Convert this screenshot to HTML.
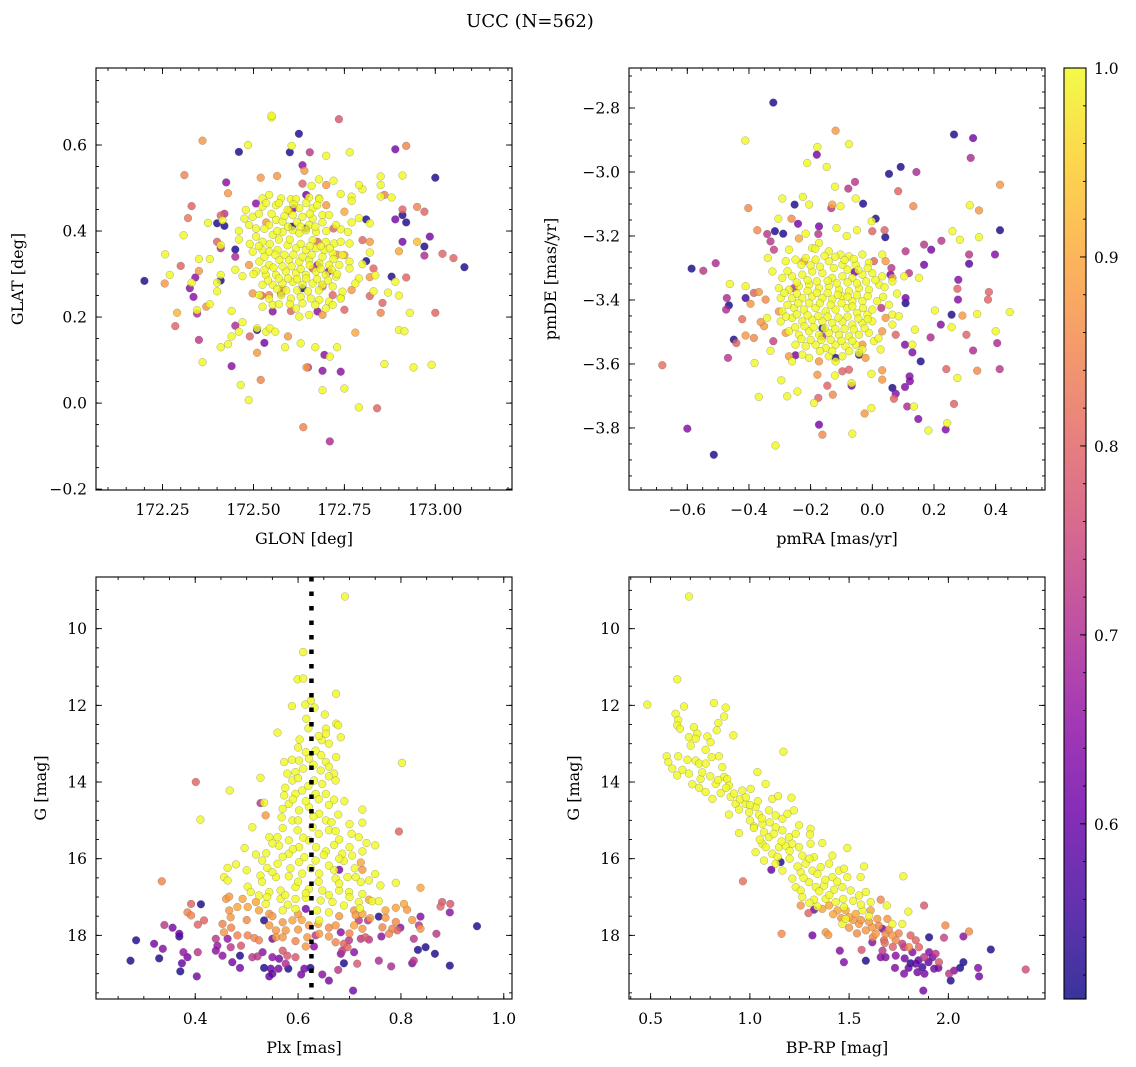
<!DOCTYPE html>
<html><head><meta charset="utf-8"><title>UCC (N=562)</title>
<style>
html,body{margin:0;padding:0;background:#fff;}
svg{display:block;font-family:"DejaVu Serif","Liberation Serif",serif;}
</style></head>
<body>
<svg id="fig" width="1136" height="1067" viewBox="0 0 1136 1067" xmlns="http://www.w3.org/2000/svg">
<defs>
<linearGradient id="plasma" x1="0" y1="1" x2="0" y2="0">
<stop offset="0" stop-color="#0d0887"/><stop offset="0.1" stop-color="#41049d"/><stop offset="0.2" stop-color="#6a00a8"/><stop offset="0.3" stop-color="#8f0da4"/><stop offset="0.4" stop-color="#b12a90"/><stop offset="0.5" stop-color="#cc4778"/><stop offset="0.6" stop-color="#e16462"/><stop offset="0.7" stop-color="#f2844b"/><stop offset="0.8" stop-color="#fca636"/><stop offset="0.9" stop-color="#fcce25"/><stop offset="1" stop-color="#f0f921"/>
</linearGradient>
</defs>
<text x="530" y="27" font-size="18" text-anchor="middle">UCC (N=562)</text>
<g id="panels"></g>
<g id="cbar"></g>
</svg>
<script>
// ---- data: [x, y, membership probability] ----
const glonGlat = [
[172.20,0.284,.52],[172.257,0.346,1],[172.30,0.319,.8],[172.256,0.278,.88],[172.27,0.298,1],[172.285,0.179,.8],[172.29,0.21,.92],[172.31,0.53,.85],[172.36,0.61,.88],[172.33,0.458,.8],[172.32,0.43,.83],[172.308,0.39,1],[172.335,0.247,.65],[172.325,0.267,.65],[172.34,0.292,.65],[172.33,0.28,1],[172.35,0.307,.88],[172.35,0.335,1],[172.38,0.335,1],[172.345,0.216,1],[172.345,0.208,.7],[172.37,0.224,.88],[172.38,0.23,1],[172.35,0.147,.72],[172.36,0.095,1],[172.375,0.419,1],[172.40,0.418,.52],[172.42,0.412,.52],[172.425,0.513,.65],[172.43,0.488,.88],[172.46,0.584,.52],[172.485,0.6,1],[172.41,0.436,.8],[172.42,0.44,.72],[172.415,0.425,1],[172.40,0.375,.8],[172.41,0.367,1],[172.41,0.36,.7],[172.45,0.357,.52],[172.46,0.40,1],[172.46,0.38,1],[172.45,0.34,.7],[172.45,0.31,1],[172.47,0.295,1],[172.41,0.298,1],[172.41,0.285,.52],[172.40,0.28,1],[172.40,0.26,1],[172.44,0.214,1],[172.45,0.18,.7],[172.47,0.188,1],[172.46,0.166,1],[172.44,0.155,1],[172.43,0.137,1],[172.41,0.13,1],[172.44,0.086,.65],[172.465,0.042,1],[172.487,0.007,1],[172.49,0.155,.8],[172.52,0.054,.85],[172.51,0.117,.88],[172.51,0.17,.52],[172.51,0.174,1],[172.53,0.14,.62],[172.535,0.166,1],[172.545,0.174,1],[172.56,0.166,1],[172.587,0.13,1],[172.595,0.155,.88],[172.63,0.139,1],[172.67,0.13,1],[172.695,0.112,.65],[172.71,0.108,1],[172.73,0.13,1],[172.646,0.083,.88],[172.65,0.083,.72],[172.69,0.075,.65],[172.74,0.073,.65],[172.69,0.03,1],[172.75,0.034,1],[172.637,-0.056,.85],[172.71,-0.089,.7],[172.79,-0.01,1],[172.84,-0.012,.8],[172.78,0.164,.9],[172.86,0.091,1],[172.94,0.083,1],[172.99,0.089,1],[172.90,0.17,1],[172.915,0.167,1],[173.00,0.21,.8],[172.93,0.21,1],[172.85,0.21,.85],[172.855,0.233,.8],[172.82,0.249,.8],[172.83,0.26,1],[172.87,0.257,1],[172.90,0.25,1],[172.89,0.282,1],[172.88,0.294,.52],[172.92,0.292,.8],[172.835,0.297,1],[172.82,0.293,.88],[172.83,0.313,.8],[172.81,0.33,.52],[172.80,0.323,1],[173.08,0.316,.52],[173.05,0.337,.8],[173.02,0.347,.8],[172.97,0.343,.7],[172.97,0.364,.52],[172.985,0.387,.62],[172.95,0.375,.93],[172.91,0.375,.62],[172.90,0.353,.9],[172.89,0.427,.62],[172.91,0.437,.52],[172.92,0.42,.52],[172.91,0.45,.8],[172.95,0.456,.85],[172.97,0.445,.8],[173.00,0.524,.52],[172.91,0.529,1],[172.92,0.598,.85],[172.89,0.59,.62],[172.85,0.527,1],[172.85,0.507,1],[172.85,0.48,1],[172.86,0.484,.85],[172.88,0.478,1],[172.80,0.497,1],[172.79,0.507,1],[172.77,0.48,1],[172.77,0.47,1],[172.74,0.486,1],[172.75,0.445,.9],[172.77,0.42,1],[172.79,0.43,1],[172.81,0.427,.52],[172.82,0.418,1],[172.765,0.583,1],[172.735,0.66,.78],[172.70,0.575,1],[172.655,0.583,.72],[172.625,0.626,.52],[172.635,0.553,.65],[172.64,0.54,.88],[172.605,0.598,1],[172.60,0.583,.52],[172.55,0.664,1],[172.55,0.668,1],[172.52,0.524,.88],[172.565,0.528,.88],[172.635,0.51,.8],[172.66,0.505,1],[172.68,0.52,1],[172.70,0.507,.88],[172.72,0.517,1],[172.645,0.484,.62],[172.68,0.476,1],[172.72,0.406,.8],[172.74,0.404,1],[172.76,0.398,1],[172.80,0.379,.8],[172.82,0.375,.88],[172.82,0.35,1],[172.79,0.29,1],[172.78,0.278,1],[172.77,0.263,.88],[172.74,0.245,1],[172.75,0.217,.8],
[172.525,0.476,1],[172.543,0.484,1],[172.576,0.476,1],[172.603,0.474,1],[172.617,0.474,1],[172.653,0.478,1],[172.681,0.474,1],[172.525,0.457,1],[172.562,0.46,1],[172.594,0.449,1],[172.626,0.453,1],[172.663,0.453,1],[172.69,0.437,1],[172.479,0.449,1],[172.498,0.433,1],[172.475,0.429,1],[172.488,0.414,1],[172.507,0.406,1],[172.543,0.414,1],[172.562,0.426,1],[172.58,0.422,1],[172.608,0.437,1],[172.635,0.433,1],[172.663,0.429,1],[172.653,0.414,1],[172.672,0.398,1],[172.708,0.437,1],[172.727,0.414,1],[172.507,0.387,1],[172.525,0.375,1],[172.553,0.391,1],[172.58,0.398,1],[172.608,0.402,1],[172.626,0.395,1],[172.644,0.402,1],[172.663,0.379,1],[172.699,0.375,1],[172.722,0.371,1],[172.74,0.375,1],[172.764,0.371,1],[172.498,0.352,1],[172.525,0.356,1],[172.543,0.352,1],[172.566,0.356,1],[172.594,0.367,1],[172.617,0.36,1],[172.644,0.356,1],[172.672,0.36,1],[172.695,0.356,1],[172.718,0.348,1],[172.745,0.344,1],[172.764,0.329,1],[172.516,0.329,1],[172.543,0.321,1],[172.571,0.333,1],[172.598,0.333,1],[172.626,0.329,1],[172.653,0.333,1],[172.681,0.325,1],[172.708,0.321,1],[172.736,0.321,1],[172.764,0.313,1],[172.507,0.306,1],[172.534,0.298,1],[172.562,0.298,1],[172.589,0.306,1],[172.617,0.302,1],[172.644,0.298,1],[172.672,0.306,1],[172.699,0.298,1],[172.727,0.294,1],[172.525,0.275,1],[172.553,0.275,1],[172.58,0.278,1],[172.608,0.282,1],[172.635,0.275,1],[172.663,0.278,1],[172.69,0.275,1],[172.718,0.271,1],[172.745,0.259,1],[172.516,0.251,1],[172.543,0.243,1],[172.576,0.251,1],[172.603,0.243,1],[172.63,0.247,1],[172.658,0.243,1],[172.681,0.24,1],[172.708,0.236,1],[172.74,0.243,1],[172.525,0.224,1],[172.553,0.228,1],[172.617,0.22,1],[172.653,0.205,1],[172.626,0.201,1],[172.699,0.22,1],[172.718,0.228,1],
[172.488,0.321,.88],[172.498,0.255,.88],[172.543,0.251,.85],[172.598,0.447,.88],[172.75,0.344,.88],[172.69,0.205,.88],[172.522,0.25,.8],[172.603,0.214,.8],[172.676,0.375,.8],[172.69,0.271,.8],[172.718,0.251,.8],[172.663,0.313,.8],[172.507,0.464,.65],[172.61,0.453,.62],[172.676,0.321,.62],[172.707,0.306,.65],[172.576,0.255,.62],[172.676,0.213,.65],[172.553,0.213,.65],[172.606,0.41,.52],[172.644,0.406,.52],[172.635,0.267,.52]
];
const glonGlatCore = [
[172.535,0.465,1],[172.57,0.465,1],[172.61,0.462,1],[172.645,0.465,1],[172.675,0.46,1],[172.515,0.44,1],[172.55,0.44,1],[172.585,0.435,1],[172.62,0.42,1],[172.655,0.44,1],[172.69,0.42,1],[172.53,0.405,1],[172.565,0.4,1],[172.595,0.41,1],[172.63,0.41,1],[172.67,0.41,1],[172.7,0.4,1],[172.515,0.365,1],[172.545,0.37,1],[172.57,0.38,1],[172.6,0.38,1],[172.63,0.37,1],[172.655,0.365,1],[172.685,0.365,1],[172.71,0.36,1],[172.53,0.34,1],[172.56,0.345,1],[172.585,0.345,1],[172.61,0.345,1],[172.635,0.34,1],[172.66,0.345,1],[172.69,0.34,1],[172.72,0.335,1],[172.53,0.31,1],[172.555,0.315,1],[172.58,0.318,1],[172.605,0.318,1],[172.63,0.312,1],[172.655,0.32,1],[172.685,0.312,1],[172.715,0.31,1],[172.54,0.285,1],[172.57,0.29,1],[172.595,0.29,1],[172.62,0.288,1],[172.645,0.29,1],[172.675,0.288,1],[172.705,0.285,1],[172.565,0.265,1],[172.59,0.262,1],[172.62,0.262,1],[172.65,0.26,1],[172.68,0.262,1],[172.6,0.23,1],[172.635,0.232,1],[172.67,0.228,1],[172.57,0.23,1],[172.73,0.3,1],[172.5,0.3,1],[172.49,0.37,1],
[172.73,0.345,.88],[172.7,0.46,.88],[172.58,0.265,.86],[172.535,0.42,.88]
];
const pmraPmde = [
[-0.321,-2.783,.52],[-0.412,-2.902,1],[-0.119,-2.871,.88],[-0.178,-2.922,1],[-0.18,-2.946,.62],[-0.076,-2.913,1],[-0.211,-2.972,1],[-0.148,-2.984,1],[0.265,-2.883,.52],[0.327,-2.894,.62],[0.319,-2.956,.7],[0.092,-2.984,.52],[0.054,-3.006,.52],[0.143,-3.0,.7],[0.414,-3.04,.88],[-0.121,-3.046,1],[-0.056,-3.031,.72],[-0.078,-3.052,.72],[0.084,-3.06,.8],[0.133,-3.107,.86],[0.316,-3.104,1],[0.346,-3.12,.88],[-0.292,-3.083,1],[-0.225,-3.078,1],[-0.205,-3.102,1],[-0.252,-3.102,.52],[-0.13,-3.102,.9],[-0.103,-3.107,1],[-0.133,-3.113,.72],[-0.054,-3.083,1],[-0.03,-3.099,.52],[-0.402,-3.113,.86],[0.011,-3.146,.52],[-0.002,-3.154,1],[-0.305,-3.146,1],[-0.262,-3.146,.86],[-0.241,-3.162,.62],[-0.173,-3.17,.62],[-0.116,-3.175,1],[-0.373,-3.182,.86],[-0.316,-3.185,.52],[-0.289,-3.193,.52],[-0.341,-3.194,.72],[-0.33,-3.217,.72],[-0.319,-3.243,.74],[-0.216,-3.193,1],[-0.175,-3.194,.72],[-0.238,-3.208,.9],[0,-3.185,.8],[0.04,-3.182,.8],[0.042,-3.204,.52],[-0.05,-3.182,1],[-0.083,-3.2,1],[0.26,-3.185,1],[0.284,-3.212,1],[0.346,-3.204,1],[0.414,-3.182,.52],[0.224,-3.215,.72],[0.168,-3.227,.72],[0.191,-3.243,.62],[0.314,-3.258,.72],[0.314,-3.287,.58],[0.398,-3.258,.64],[0.168,-3.29,.62],[0.279,-3.337,.64],[0.276,-3.365,.8],[0.278,-3.399,.64],[0.378,-3.375,.8],[0.375,-3.399,.8],[0.446,-3.438,1],[0.34,-3.444,1],[0.292,-3.449,.88],[0.257,-3.446,.52],[0.203,-3.433,1],[0.257,-3.485,1],[0.222,-3.477,.64],[0.305,-3.509,.8],[0.405,-3.535,.7],[0.4,-3.498,1],[0.327,-3.558,.7],[0.189,-3.517,.7],[0.138,-3.493,1],[0.13,-3.54,1],[0.13,-3.564,.64],[0.157,-3.592,.52],[0.106,-3.54,.64],[0.24,-3.616,.8],[0.276,-3.644,1],[0.34,-3.621,.86],[0.413,-3.616,.72],[0.243,-3.785,1],[0.238,-3.805,.64],[0.182,-3.808,1],[0.149,-3.772,.64],[0.135,-3.733,1],[0.113,-3.733,.7],[0.265,-3.725,.8],[0.121,-3.639,.64],[0.122,-3.654,.64],[0.106,-3.672,.64],[0.065,-3.675,.52],[0.076,-3.693,.64],[0.07,-3.709,.8],[0.032,-3.649,.88],[0.032,-3.62,.88],[-0.003,-3.631,1],[-0.025,-3.755,.88],[-0.003,-3.738,1],[-0.065,-3.818,1],[-0.067,-3.668,.62],[-0.067,-3.66,1],[-0.076,-3.618,.8],[-0.097,-3.623,.8],[-0.121,-3.636,1],[-0.128,-3.696,.86],[-0.146,-3.668,.8],[-0.175,-3.706,.8],[-0.189,-3.722,1],[-0.173,-3.79,.62],[-0.162,-3.821,.86],[-0.178,-3.634,.88],[-0.243,-3.686,1],[-0.276,-3.701,1],[-0.295,-3.651,1],[-0.368,-3.703,1],[-0.314,-3.855,1],[-0.514,-3.884,.52],[-0.6,-3.802,.64],[-0.681,-3.604,.82],[-0.586,-3.302,.52],[-0.548,-3.309,.72],[-0.508,-3.285,.7],[-0.462,-3.35,1],[-0.411,-3.357,1],[-0.472,-3.394,.7],[-0.465,-3.417,.52],[-0.474,-3.43,.7],[-0.411,-3.394,.55],[-0.395,-3.412,.88],[-0.384,-3.378,.8],[-0.368,-3.375,.88],[-0.346,-3.399,.86],[-0.422,-3.46,.82],[-0.411,-3.511,.88],[-0.384,-3.519,.86],[-0.449,-3.524,.52],[-0.441,-3.535,.8],[-0.468,-3.581,.72],[-0.382,-3.597,1],[-0.33,-3.559,1],[-0.321,-3.529,.74],[-0.351,-3.482,.88],[-0.362,-3.469,.88],[-0.339,-3.269,1],[-0.341,-3.456,1],
[-0.173,-3.222,1],[-0.195,-3.238,1],[-0.141,-3.248,1],[-0.103,-3.258,1],[-0.076,-3.264,1],[-0.032,-3.258,1],[-0.27,-3.243,1],[-0.281,-3.279,1],[-0.249,-3.274,1],[-0.216,-3.269,1],[-0.184,-3.274,1],[-0.141,-3.279,1],[-0.097,-3.29,1],[-0.054,-3.29,1],[-0.011,-3.284,1],[0.032,-3.258,1],[-0.324,-3.311,1],[-0.292,-3.331,1],[-0.26,-3.326,1],[-0.227,-3.321,1],[-0.195,-3.311,1],[-0.162,-3.316,1],[-0.13,-3.331,1],[-0.097,-3.326,1],[-0.065,-3.331,1],[-0.032,-3.321,1],[0,-3.316,1],[0.032,-3.326,1],[0.065,-3.342,1],[0.103,-3.326,1],[0.151,-3.331,1],[-0.303,-3.363,1],[-0.27,-3.368,1],[-0.238,-3.357,1],[-0.205,-3.352,1],[-0.173,-3.363,1],[-0.141,-3.357,1],[-0.108,-3.368,1],[-0.076,-3.373,1],[-0.043,-3.363,1],[-0.011,-3.368,1],[0.022,-3.352,1],[-0.297,-3.394,1],[-0.26,-3.394,1],[-0.227,-3.394,1],[-0.195,-3.389,1],[-0.162,-3.394,1],[-0.13,-3.399,1],[-0.097,-3.389,1],[-0.065,-3.404,1],[-0.032,-3.404,1],[0.016,-3.404,1],[0.054,-3.415,1],[-0.292,-3.436,1],[-0.254,-3.425,1],[-0.222,-3.43,1],[-0.184,-3.425,1],[-0.151,-3.436,1],[-0.119,-3.43,1],[-0.081,-3.425,1],[-0.049,-3.441,1],[-0.016,-3.446,1],[0.065,-3.446,1],[0.086,-3.451,1],[-0.297,-3.467,1],[-0.26,-3.456,1],[-0.227,-3.467,1],[-0.195,-3.462,1],[-0.162,-3.467,1],[-0.13,-3.472,1],[-0.097,-3.467,1],[-0.065,-3.477,1],[-0.032,-3.472,1],[0,-3.467,1],[0.065,-3.477,1],[-0.27,-3.498,1],[-0.238,-3.509,1],[-0.205,-3.498,1],[-0.173,-3.509,1],[-0.141,-3.503,1],[-0.108,-3.509,1],[-0.076,-3.514,1],[-0.043,-3.509,1],[-0.011,-3.503,1],[0.005,-3.529,1],[-0.249,-3.54,1],[-0.216,-3.545,1],[-0.184,-3.54,1],[-0.151,-3.55,1],[-0.119,-3.54,1],[-0.087,-3.545,1],[-0.054,-3.54,1],[-0.032,-3.555,1],[0.027,-3.555,1],[-0.205,-3.581,1],[-0.141,-3.576,1],[-0.097,-3.576,1],[-0.26,-3.592,1],[-0.227,-3.571,1],[-0.043,-3.566,1],[-0.119,-3.592,1],
[-0.222,-3.279,.88],[0.043,-3.279,.88],[0.065,-3.331,.88],[0.043,-3.456,.88],[0.032,-3.498,.88],[-0.281,-3.503,.88],[-0.27,-3.576,.88],[-0.022,-3.581,.88],[-0.173,-3.592,.88],[-0.032,-3.54,.88],[-0.303,-3.436,.88],[0.076,-3.509,.8],[0.005,-3.279,.8],[-0.254,-3.363,.72],[-0.162,-3.514,.72],[0.108,-3.248,.72],[0.062,-3.3,.72],[0.029,-3.425,.72],[0.119,-3.316,.72],[-0.057,-3.313,.62],[0.108,-3.394,.62],[0.059,-3.321,.62],[-0.249,-3.573,.62],[-0.162,-3.488,.52],[-0.119,-3.581,.52],[0.108,-3.41,.52],[-0.043,-3.571,.52]
];
const pmraPmdeCore = [
[-0.185,-3.24,1],[-0.155,-3.262,1],[-0.12,-3.265,1],[-0.09,-3.275,1],[-0.06,-3.272,1],[-0.23,-3.29,1],[-0.2,-3.292,1],[-0.17,-3.296,1],[-0.125,-3.3,1],[-0.08,-3.305,1],[-0.045,-3.306,1],[-0.015,-3.3,1],[-0.275,-3.31,1],[-0.245,-3.345,1],[-0.21,-3.338,1],[-0.18,-3.342,1],[-0.145,-3.34,1],[-0.115,-3.348,1],[-0.08,-3.345,1],[-0.05,-3.348,1],[-0.02,-3.342,1],[0.01,-3.338,1],[-0.285,-3.378,1],[-0.245,-3.38,1],[-0.21,-3.372,1],[-0.18,-3.378,1],[-0.145,-3.378,1],[-0.112,-3.384,1],[-0.08,-3.39,1],[-0.05,-3.385,1],[-0.015,-3.388,1],[0.035,-3.39,1],[-0.275,-3.415,1],[-0.24,-3.41,1],[-0.205,-3.41,1],[-0.17,-3.41,1],[-0.135,-3.415,1],[-0.1,-3.41,1],[-0.065,-3.42,1],[-0.03,-3.425,1],[0.0,-3.43,1],[-0.28,-3.452,1],[-0.245,-3.445,1],[-0.21,-3.448,1],[-0.175,-3.45,1],[-0.145,-3.452,1],[-0.11,-3.455,1],[-0.08,-3.452,1],[-0.045,-3.458,1],[-0.015,-3.46,1],[-0.25,-3.485,1],[-0.22,-3.482,1],[-0.19,-3.485,1],[-0.155,-3.488,1],[-0.12,-3.49,1],[-0.09,-3.49,1],[-0.06,-3.492,1],[-0.025,-3.488,1],[-0.23,-3.522,1],[-0.2,-3.525,1],[-0.165,-3.525,1],[-0.135,-3.525,1],[-0.1,-3.528,1],[-0.065,-3.528,1],[-0.17,-3.56,1],[-0.13,-3.56,1],[-0.075,-3.56,1],[0.02,-3.52,1],[0.04,-3.36,1],[0.08,-3.38,1]
];
const plxG = [
[0.691,9.16,1],[0.61,10.61,1],[0.599,11.32,1],[0.61,11.3,1],[0.674,11.7,1],[0.588,12.02,1],[0.614,11.98,1],[0.625,11.87,1],[0.632,12.06,1],[0.616,12.35,1],[0.652,12.24,1],[0.674,12.48,1],[0.678,12.52,1],[0.654,12.61,1],[0.56,12.71,1],[0.603,12.89,1],[0.683,12.83,1],[0.654,12.74,1],[0.646,12.91,1],[0.634,13.18,1],[0.615,13.22,1],[0.674,13.35,1],[0.573,13.48,1],[0.588,13.42,1],[0.602,13.44,1],[0.621,13.39,1],[0.654,13.48,1],[0.644,13.7,1],[0.67,13.78,1],[0.673,13.96,1],[0.579,13.78,1],[0.595,13.74,1],[0.589,13.96,1],[0.631,13.96,1],[0.647,14.05,1],[0.802,13.5,1],[0.527,13.89,1],[0.467,14.22,1],[0.401,14.0,.8],[0.573,14.35,1],[0.595,14.31,1],[0.608,14.22,1],[0.634,14.31,1],[0.654,14.31,1],[0.67,14.46,1],[0.527,14.55,.72],[0.534,14.54,1],[0.537,14.87,.88],[0.568,14.92,1],[0.41,14.98,1],[0.511,15.18,1],[0.582,14.57,1],[0.602,14.74,1],[0.621,14.65,1],[0.641,14.83,1],[0.654,15.0,1],[0.678,14.85,1],[0.725,14.72,1],[0.725,15.06,1],[0.589,15.0,1],[0.599,15.26,1],[0.628,15.18,1],[0.66,15.26,1],[0.673,15.28,1],[0.704,15.35,1],[0.718,15.44,1],[0.733,15.59,1],[0.796,15.29,.8],[0.544,15.44,1],[0.56,15.44,1],[0.563,15.66,1],[0.582,15.52,1],[0.602,15.7,1],[0.621,15.52,1],[0.67,15.64,1],[0.654,15.81,1],[0.686,15.87,1],[0.705,15.92,1],[0.725,15.81,1],[0.496,15.72,1],[0.518,15.89,1],[0.538,15.86,1],[0.582,15.87,1],[0.612,15.96,1],[0.56,16.13,1],[0.602,16.09,1],[0.634,16.05,1],[0.66,16.18,1],[0.689,16.06,1],[0.722,16.1,.9],[0.479,16.15,1],[0.463,16.24,1],[0.54,16.24,1],[0.68,16.29,.62],[0.725,16.29,.88],[0.456,16.48,1],[0.463,16.57,1],[0.527,16.44,1],[0.557,16.48,1],[0.582,16.46,1],[0.608,16.39,1],[0.641,16.39,1],[0.673,16.52,1],[0.696,16.48,1],[0.712,16.48,1],[0.722,16.61,1],[0.738,16.57,1],[0.79,16.63,1],[0.838,16.76,.9],[0.335,16.59,.85],[0.502,16.73,1],[0.508,16.87,1],[0.524,16.96,1],[0.544,16.87,1],[0.566,16.83,1],[0.595,16.74,1],[0.621,16.79,1],[0.647,16.83,1],[0.68,16.83,1],[0.699,16.87,1],[0.725,16.92,1],[0.46,17.05,.88],[0.466,16.99,.88],[0.492,17.05,.9],[0.518,17.13,.9],[0.537,17.18,1],[0.566,17.05,1],[0.595,17.05,1],[0.615,17.02,1],[0.644,17.09,1],[0.667,17.13,1],[0.689,17.22,1],[0.718,17.13,1],[0.744,17.11,1],[0.757,17.11,1],[0.738,17.07,.9],[0.392,17.18,.8],[0.411,17.19,.52],[0.385,17.4,.85],[0.392,17.48,.85],[0.417,17.61,.8],[0.405,17.72,.8],[0.34,17.73,.72],[0.356,17.8,.62],[0.369,17.96,.6],[0.369,18.03,.52],[0.285,18.13,.52],[0.32,18.22,.62],[0.337,18.35,.64],[0.377,18.44,.66],[0.385,18.57,.62],[0.374,18.73,.6],[0.405,18.44,.72],[0.33,18.6,.52],[0.274,18.66,.52],[0.371,18.94,.52],[0.403,19.07,.62],[0.466,17.35,.88],[0.469,17.53,.88],[0.482,17.26,.9],[0.502,17.26,.9],[0.524,17.35,.9],[0.544,17.44,.88],[0.57,17.35,1],[0.595,17.31,1],[0.615,17.31,.62],[0.637,17.35,1],[0.66,17.4,1],[0.709,17.35,.88],[0.712,17.48,.88],[0.725,17.44,.9],[0.77,17.35,.9],[0.79,17.28,.9],[0.812,17.33,.88],[0.806,17.18,.9],[0.757,17.51,.52],[0.77,17.54,.88],[0.838,17.51,.64],[0.88,17.13,.78],[0.896,17.18,.78],[0.877,17.25,.8],[0.895,17.4,.65],[0.948,17.76,.52],[0.453,17.7,.85],[0.456,17.92,.88],[0.534,17.61,.52],[0.544,17.74,.88],[0.57,17.66,.88],[0.557,17.87,.88],[0.576,17.87,.88],[0.589,17.61,.9],[0.607,17.6,.9],[0.641,17.61,1],[0.639,17.7,.9],[0.621,17.74,.88],[0.641,17.96,.88],[0.66,18.03,.88],[0.673,17.74,.88],[0.709,17.74,.9],[0.725,17.83,.88],[0.718,17.61,.72],[0.736,17.61,.72],[0.764,17.79,.85],[0.783,17.83,.85],[0.799,17.8,.65],[0.822,17.6,.88],[0.835,17.74,.72],[0.838,17.83,.88],[0.869,17.96,.72],[0.825,18.09,.72],[0.683,17.92,.65],[0.44,18.09,.72],[0.443,18.27,.66],[0.463,18.09,.66],[0.469,18.31,.72],[0.489,18.27,.78],[0.482,18.0,.85],[0.502,18.0,.85],[0.515,18.07,.85],[0.524,18.13,.85],[0.55,18.09,.62],[0.557,18.05,.88],[0.57,18.05,.88],[0.595,18.15,.85],[0.618,18.05,.88],[0.615,18.29,.88],[0.631,18.29,.65],[0.634,18.0,.72],[0.673,18.18,.85],[0.689,18.22,.8],[0.696,18.31,.8],[0.699,18.13,.72],[0.722,18.09,.72],[0.731,18.05,.78],[0.738,18.11,.72],[0.762,18.03,.65],[0.777,17.96,.85],[0.793,17.87,.8],[0.44,18.4,.65],[0.453,18.53,.65],[0.472,18.7,.62],[0.487,18.53,.52],[0.511,18.57,.72],[0.521,18.55,.72],[0.531,18.44,.65],[0.55,18.57,.65],[0.57,18.4,.78],[0.579,18.53,.78],[0.595,18.57,.78],[0.563,18.61,.62],[0.576,18.74,.7],[0.683,18.48,.65],[0.686,18.4,.72],[0.709,18.44,.65],[0.689,18.73,.52],[0.715,18.74,.78],[0.757,18.66,.7],[0.781,18.81,.7],[0.825,18.66,.72],[0.822,18.73,.62],[0.833,18.38,.52],[0.848,18.31,.52],[0.866,18.48,.52],[0.895,18.79,.52],[0.487,18.85,.62],[0.534,18.85,.52],[0.547,18.87,.6],[0.55,19.0,.6],[0.562,18.87,.62],[0.581,18.87,.52],[0.544,19.07,.6],[0.606,19.02,.62],[0.612,18.87,.62],[0.624,18.85,.52],[0.647,19.02,.65],[0.66,19.18,.62],[0.678,18.9,.72],[0.707,19.44,.62]
];
const plxGCore = [
[0.62,12.6,1],[0.64,12.8,1],[0.66,13.0,1],[0.6,13.1,1],[0.645,13.3,1],[0.63,13.55,1],[0.66,13.6,1],[0.61,13.65,1],[0.6,13.9,1],[0.66,13.85,1],[0.62,14.1,1],[0.575,14.15,1],[0.64,14.45,1],[0.615,14.5,1],[0.59,14.45,1],[0.66,14.6,1],[0.69,14.5,1],[0.57,14.7,1],[0.63,14.9,1],[0.6,15.0,1],[0.665,15.05,1],[0.7,15.1,1],[0.57,15.2,1],[0.64,15.35,1],[0.61,15.45,1],[0.68,15.5,1],[0.55,15.6,1],[0.59,15.75,1],[0.635,15.7,1],[0.7,15.7,1],[0.75,15.65,1],[0.57,15.95,1],[0.65,15.9,1],[0.68,16.0,1],[0.53,16.05,1],[0.585,16.25,1],[0.625,16.25,1],[0.67,16.3,1],[0.71,16.25,1],[0.5,16.3,1],[0.55,16.35,1],[0.75,16.4,1],[0.6,16.6,1],[0.64,16.6,1],[0.68,16.65,1],[0.53,16.6,1],[0.76,16.7,1],[0.575,16.95,1],[0.615,16.9,1],[0.66,16.95,1],[0.7,17.0,1],[0.54,17.0,1],[0.72,17.3,1],[0.58,17.2,1],
[0.55,17.5,.88],[0.6,17.45,.88],[0.68,17.5,.88],[0.5,17.6,.86],[0.74,17.55,.88],[0.66,17.8,.86],[0.6,17.85,.88],[0.7,17.95,.85],[0.47,17.8,.85],[0.79,17.65,.86]
];
const bprpG = [
[0.693,9.16,1],[0.483,11.98,1],[0.634,11.32,1],[0.668,12.03,1],[0.626,12.22,1],[0.639,12.38,1],[0.634,12.52,1],[0.648,12.61,1],[0.819,11.94,1],[0.878,12.06,1],[0.87,12.29,1],[0.841,12.46,1],[0.833,12.65,1],[0.917,12.78,1],[0.718,12.57,1],[0.735,12.74,1],[0.693,12.83,1],[0.786,12.81,1],[0.802,12.96,1],[0.727,12.87,1],[0.702,13.05,1],[0.777,13.16,1],[0.581,13.33,1],[0.589,13.48,1],[0.609,13.65,1],[0.639,13.33,1],[0.634,13.83,1],[0.66,13.68,1],[0.685,13.42,1],[0.693,13.78,1],[0.727,13.44,1],[0.744,13.52,1],[0.777,13.52,1],[0.807,13.35,1],[0.844,13.33,1],[0.71,14.06,1],[0.744,14.15,1],[0.777,14.26,1],[0.811,14.44,1],[0.752,13.92,1],[0.828,14.05,1],[0.861,13.61,1],[0.87,13.87,1],[0.886,13.92,1],[0.895,14.09,1],[0.853,14.29,1],[0.903,14.39,1],[0.928,14.57,1],[0.962,14.22,1],[1.004,14.18,1],[1.038,13.74,1],[1.08,14.05,1],[1.113,14.44,1],[1.142,14.37,1],[1.209,14.41,1],[1.169,13.21,1],[0.895,14.85,1],[0.945,14.72,1],[0.979,14.57,1],[0.996,14.79,1],[1.029,14.65,1],[1.046,14.85,1],[1.096,14.74,1],[1.13,14.87,1],[1.164,14.96,1],[1.189,14.83,1],[1.222,14.74,1],[0.945,15.33,1],[1.021,15.16,1],[1.063,15.09,1],[1.071,15.31,1],[1.096,15.44,1],[1.13,15.18,1],[1.164,15.26,1],[1.197,15.44,1],[1.231,15.35,1],[1.248,15.13,1],[1.306,15.22,1],[1.303,15.37,1],[1.029,15.83,1],[1.063,15.61,1],[1.071,16.05,1],[1.113,15.87,1],[1.147,15.7,1],[1.18,15.66,1],[1.214,15.61,1],[1.248,15.7,1],[1.264,15.92,1],[1.306,15.61,1],[1.323,15.96,1],[1.365,15.59,1],[1.416,15.92,1],[1.491,15.72,1],[1.13,16.13,1],[1.164,16.31,1],[1.214,16.52,1],[1.256,16.35,1],[1.281,16.13,1],[1.315,16.31,1],[1.357,16.22,1],[1.399,16.13,1],[1.416,16.48,1],[1.449,16.31,1],[1.474,16.26,1],[1.491,16.48,1],[1.575,16.2,1],[1.558,16.48,1],[1.773,16.46,1],[1.155,16.09,.52],[1.108,16.29,.6],[0.965,16.59,.82],[1.231,16.74,1],[1.256,16.83,1],[1.298,16.61,1],[1.332,16.74,1],[1.374,16.7,1],[1.424,16.81,1],[1.466,16.74,1],[1.508,16.83,1],[1.55,16.96,1],[1.584,16.87,1],[1.609,17.13,1],[1.264,17.0,1],[1.323,17.07,1],[1.382,17.05,1],[1.432,17.13,1],[1.474,17.26,1],[1.69,17.22,1],[1.798,17.38,1],[1.256,17.22,.88],[1.365,17.31,.9],[1.295,17.42,.8],[1.323,17.33,.62],[1.399,17.22,.9],[1.441,17.35,.9],[1.483,17.35,.9],[1.5,17.53,.9],[1.533,17.44,.9],[1.567,17.35,1],[1.609,17.35,.9],[1.659,17.07,.86],[1.693,17.57,.88],[1.642,17.57,.88],[1.668,17.83,.62],[1.718,17.7,1],[1.768,17.7,1],[1.466,17.7,1],[1.483,17.57,1],[1.55,17.7,.88],[1.584,17.87,.88],[1.617,17.79,.88],[1.634,17.96,.88],[1.684,17.96,.86],[1.718,18.0,.88],[1.735,18.13,.86],[1.802,18.31,.86],[1.81,18.0,.8],[1.836,18.13,.8],[1.878,17.22,.78],[1.903,18.05,.52],[1.978,18.06,.74],[1.985,17.74,.86],[2.104,17.9,.86],[2.076,18.03,.65],[2.214,18.37,.52],[2.076,18.7,.52],[2.059,18.85,.52],[2.15,18.85,.64],[2.155,19.07,.62],[2.39,18.89,.76],[2.012,19.18,.52],[2.029,18.92,.65],[2.004,19.0,.72],[1.16,17.96,.86],[1.382,17.92,.88],[1.395,17.99,.88],[1.315,18.0,.62],[1.453,18.4,.64],[1.474,18.7,.64],[1.563,18.38,.78],[1.584,18.66,.52],[1.668,18.4,.72],[1.684,18.57,.64],[1.735,18.53,.65],[1.731,18.85,.64],[1.777,19.0,.64],[1.777,18.31,.72],[1.819,18.44,.64],[1.81,18.73,.52],[1.836,18.74,.6],[1.844,18.96,.62],[1.869,18.83,.55],[1.878,18.57,.72],[1.903,18.44,.64],[1.92,18.57,.62],[1.936,18.48,.72],[1.953,18.7,.78],[1.928,18.87,.62],[1.874,19.44,.62],[1.768,18.22,.74],[1.676,18.13,.8],[1.617,18.18,.64],[1.659,18.57,.64],[1.852,18.31,.8]
];
const bprpGCore = [
[0.76,13.75,1],[0.8,13.85,1],[0.84,13.95,1],[0.88,14.15,1],[0.92,14.3,1],[0.95,14.45,1],[0.98,14.4,1],[1.0,14.6,1],[1.04,14.5,1],[1.06,14.95,1],[1.0,15.0,1],[1.02,15.2,1],[1.1,15.05,1],[1.12,15.35,1],[1.05,15.5,1],[1.08,15.7,1],[1.16,15.55,1],[1.2,15.8,1],[1.14,15.95,1],[1.2,16.0,1],[1.24,16.2,1],[1.3,16.0,1],[1.34,16.4,1],[1.27,16.5,1],[1.38,16.55,1],[1.44,16.6,1],[1.35,16.85,1],[1.4,16.95,1],[1.47,17.05,1],[1.52,17.1,1],[1.56,17.2,1],[1.6,17.5,1],[1.3,17.15,1],[1.34,17.25,1],
[1.42,17.45,.9],[1.46,17.55,.88],[1.52,17.6,.88],[1.56,17.6,.88],[1.6,17.65,.88],[1.65,17.75,.86],[1.7,17.85,.86],[1.75,17.95,.85],[1.5,17.8,.88],[1.54,17.95,.86],[1.62,18.05,.85],[1.68,18.2,.82],[1.72,18.3,.8],
[1.78,18.6,.62],[1.85,18.65,.6],[1.9,18.7,.6],[1.8,18.85,.6],[1.95,18.85,.62],[1.88,19.0,.62]
];
const plxMedian = [0.626];
const cbarTicks = [0.6, 0.7, 0.8, 0.9, 1.0];
const cbarRange = [0.5073, 1.0];

const NS = 'http://www.w3.org/2000/svg';
function mk(tag, attrs, parent) {
  const e = document.createElementNS(NS, tag);
  for (const k in attrs) e.setAttribute(k, attrs[k]);
  if (parent) parent.appendChild(e);
  return e;
}
const stops = [[13,8,135],[65,4,157],[106,0,168],[143,13,164],[177,42,144],[204,71,120],[225,100,98],[242,132,75],[252,166,54],[252,206,37],[240,249,33]];
function plasma(p) {
  let t = (p - cbarRange[0]) / (cbarRange[1] - cbarRange[0]);
  t = Math.max(0, Math.min(1, t)) * 10;
  const i = Math.min(9, Math.floor(t)), f = t - i;
  const a = stops[i], b = stops[i + 1];
  return 'rgb(' + [0, 1, 2].map(k => Math.round(a[k] + (b[k] - a[k]) * f)).join(',') + ')';
}
function fmtNum(v, d) {
  const s = Math.abs(v).toFixed(d);
  return (v < -1e-9 ? '\u2212' : '') + s;
}
const root = document.getElementById('panels');

function panel(cfg) {
  const g = mk('g', {}, root);
  
  
  const L = cfg.box[0], T = cfg.box[1], R = cfg.box[2], B = cfg.box[3];
  const sx = v => L + (v - cfg.xd[0]) / (cfg.xd[1] - cfg.xd[0]) * (R - L);
  const sy = v => cfg.yinv ? T + (v - cfg.yd[0]) / (cfg.yd[1] - cfg.yd[0]) * (B - T)
                           : B - (v - cfg.yd[0]) / (cfg.yd[1] - cfg.yd[0]) * (B - T);
  const clip = mk('clipPath', {id: 'clip-' + cfg.name}, g);
  mk('rect', {x: L, y: T, width: R - L, height: B - T}, clip);
  const pts = mk('g', {'clip-path': 'url(#clip-' + cfg.name + ')'}, g);
  
  
  const sorted = cfg.data.slice().sort((a, b) => a[2] - b[2]);
  sorted.forEach(d => {
    const c = mk('circle', {cx: sx(d[0]).toFixed(1), cy: sy(d[1]).toFixed(1), r: 3.9, fill: plasma(d[2]), 'fill-opacity': 0.82, stroke: '#5a5a5a', 'stroke-width': 0.35, 'stroke-opacity': 0.7}, pts);
    
    
  });
  if (cfg.vline) {
    const vl = mk('line', {x1: sx(cfg.vline[0]), x2: sx(cfg.vline[0]), y1: T, y2: B, stroke: '#000', 'stroke-width': 4.5, 'stroke-dasharray': '4.5 10'}, g);
    
    
  }
  const frame = mk('rect', {x: L, y: T, width: R - L, height: B - T, fill: 'none', stroke: '#000', 'stroke-width': 1.1}, g);
  
  
  const tk = mk('g', {stroke: '#000', 'stroke-width': 0.9}, g);
  
  
  const eps = 1e-9;
  for (let v = Math.ceil(cfg.xd[0] / cfg.xmin) * cfg.xmin; v <= cfg.xd[1] + eps; v += cfg.xmin) {
    const x = sx(v);
    mk('line', {x1: x, x2: x, y1: B, y2: B - 3}, tk); mk('line', {x1: x, x2: x, y1: T, y2: T + 3}, tk);
  }
  for (let v = Math.ceil(cfg.yd[0] / cfg.ymin) * cfg.ymin; v <= cfg.yd[1] + eps; v += cfg.ymin) {
    const y = sy(v);
    mk('line', {x1: L, x2: L + 3, y1: y, y2: y}, tk); mk('line', {x1: R, x2: R - 3, y1: y, y2: y}, tk);
  }
  const lab = mk('g', {'font-size': 15.5, fill: '#000'}, g);
  cfg.xticks.forEach(v => {
    const x = sx(v);
    mk('line', {x1: x, x2: x, y1: B, y2: B - 6}, tk); mk('line', {x1: x, x2: x, y1: T, y2: T + 6}, tk);
    const t = mk('text', {x: x, y: B + 25, 'text-anchor': 'middle'}, lab);
    t.textContent = fmtNum(v, cfg.xdec);
    
    
  });
  cfg.yticks.forEach(v => {
    const y = sy(v);
    mk('line', {x1: L, x2: L + 6, y1: y, y2: y}, tk); mk('line', {x1: R, x2: R - 6, y1: y, y2: y}, tk);
    const t = mk('text', {x: L - 9, y: y + 5.5, 'text-anchor': 'end'}, lab);
    t.textContent = fmtNum(v, cfg.ydec);
    
    
  });
  const xt = mk('text', {x: (L + R) / 2, y: B + 54, 'text-anchor': 'middle', 'font-size': 16}, g);
  xt.textContent = cfg.xlabel;
  
  
  const cy = (T + B) / 2;
  const yt = mk('text', {x: cfg.ylabx, y: cy, 'text-anchor': 'middle', 'font-size': 16, transform: 'rotate(-90 ' + cfg.ylabx + ' ' + cy + ')'}, g);
  yt.textContent = cfg.ylabel;
  
  
}

panel({name: 'glon-glat-panel', box: [96, 68, 512, 490], xd: [172.067, 173.211], yd: [-0.202, 0.779], xticks: [172.25, 172.5, 172.75, 173.0], xdec: 2, xmin: 0.05, yticks: [-0.2, 0, 0.2, 0.4, 0.6], ydec: 1, ymin: 0.05, data: glonGlat.concat(glonGlatCore), xlabel: 'GLON [deg]', ylabel: 'GLAT [deg]', ylabx: 23});
panel({name: 'pm-panel', box: [629, 68, 1045, 490], xd: [-0.789, 0.560], yd: [-3.994, -2.675], xticks: [-0.6, -0.4, -0.2, 0, 0.2, 0.4], xdec: 1, xmin: 0.05, yticks: [-3.8, -3.6, -3.4, -3.2, -3.0, -2.8], ydec: 1, ymin: 0.05, data: pmraPmde.concat(pmraPmdeCore), xlabel: 'pmRA [mas/yr]', ylabel: 'pmDE [mas/yr]', ylabx: 556});
panel({name: 'plx-g-panel', box: [96, 577, 512, 999], xd: [0.207, 1.016], yd: [8.652, 19.66], yinv: true, xticks: [0.4, 0.6, 0.8, 1.0], xdec: 1, xmin: 0.05, yticks: [10, 12, 14, 16, 18], ydec: 0, ymin: 0.5, data: plxG.concat(plxGCore), vline: plxMedian, xlabel: 'Plx [mas]', ylabel: 'G [mag]', ylabx: 46});
panel({name: 'cmd-panel', box: [629, 577, 1045, 999], xd: [0.391, 2.487], yd: [8.652, 19.66], yinv: true, xticks: [0.5, 1.0, 1.5, 2.0], xdec: 1, xmin: 0.1, yticks: [10, 12, 14, 16, 18], ydec: 0, ymin: 0.5, data: bprpG.concat(bprpGCore), xlabel: 'BP-RP [mag]', ylabel: 'G [mag]', ylabx: 579});

(function () {
  const cb = document.getElementById('cbar');
  const L = 1064, R = 1086, T = 68, B = 999;
  const sy = v => B - (v - cbarRange[0]) / (cbarRange[1] - cbarRange[0]) * (B - T);
  const r = mk('rect', {x: L, y: T, width: R - L, height: B - T, fill: 'url(#plasma)', 'fill-opacity': 0.82}, cb);
  
  
  mk('rect', {x: L, y: T, width: R - L, height: B - T, fill: 'none', stroke: '#000', 'stroke-width': 1.1}, cb);
  for (let v = 0.52; v < 1.0; v += 0.02) {
    const y = sy(v);
    mk('line', {x1: R, x2: R - 3, y1: y, y2: y, stroke: '#000', 'stroke-width': 0.9}, cb);
  }
  cbarTicks.forEach(v => {
    const y = sy(v);
    mk('line', {x1: R, x2: R - 6, y1: y, y2: y, stroke: '#000', 'stroke-width': 0.9}, cb);
    const t = mk('text', {x: R + 8, y: y + 6, 'font-size': 15.5}, cb);
    t.textContent = v.toFixed(1);
    
    
  });
})();
</script>
</body></html>
